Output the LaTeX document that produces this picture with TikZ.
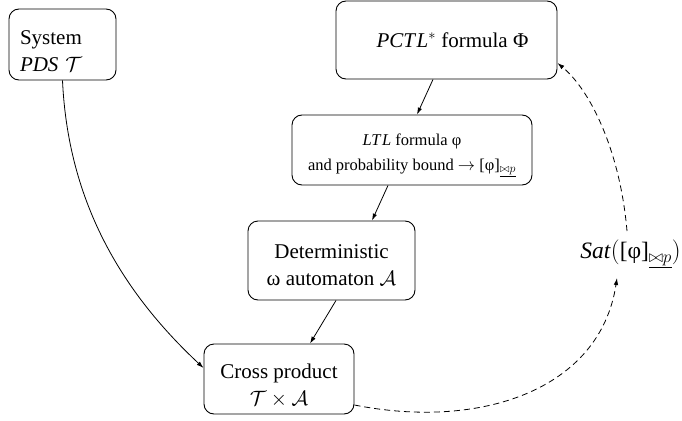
\documentclass[tikz,border=0pt]{standalone}
\usepackage{fontspec}
\setmainfont{Liberation Serif}
\usetikzlibrary{arrows.meta}
\begin{document}
\begin{tikzpicture}[x=1pt,y=-1pt,
  box/.style={draw, rounded corners=10pt, line width=0.9pt, align=center, inner sep=0pt},
  conn/.style={line width=0.8pt, -{Latex[length=7pt,width=4.5pt]}},
  dconn/.style={conn, dash pattern=on 6pt off 4pt},
  bigtxt/.style={font=\fontsize{21}{27}\selectfont},
  smalltxt/.style={font=\fontsize{16.5}{25}\selectfont},
  sattxt/.style={font=\fontsize{23.5}{28}\selectfont}]
\useasboundingbox (0,0) rectangle (682,420);
\node[box,bigtxt,minimum width=107pt,minimum height=71pt,text width=85pt,align=left] (sys) at (62.5,44.5)
  {\rule{0pt}{28pt}System\\\textit{PDS} $\mathcal{T}$};
\node[box,bigtxt,minimum width=221pt,minimum height=78pt] (pctl) at (446.5,40)
  {\hspace*{12pt}\textit{PCT\kern1.5pt L}$^{*}$ formula Φ};
\node[box,smalltxt,minimum width=240pt,minimum height=70pt] (ltl) at (412,150)
  {\rule{0pt}{22pt}\textit{LT\kern1.5pt L} formula φ\\and probability bound $\rightarrow$ [φ]$_{\underline{\bowtie p}}$};
\node[box,bigtxt,minimum width=167pt,minimum height=79pt] (det) at (331.5,260.5)
  {\rule{0pt}{24pt}Deterministic\\ω automaton $\mathcal{A}$};
\node[box,bigtxt,minimum width=150pt,minimum height=70pt] (cross) at (279,379)
  {\rule{0pt}{28pt}Cross product\\$\mathcal{T}\times\mathcal{A}$};
\node[sattxt,anchor=east,inner sep=0pt] (sat) at (681,254)
  {\textit{Sat}$\Bigl($[φ]$_{\underline{\bowtie p}}\Bigr)$};
\coordinate (satin) at (617,278);
\coordinate (satout) at (627,231);
\draw[conn] ([xshift=-13.5pt]pctl.south) -- ([xshift=5pt]ltl.north);
\draw[conn] ([xshift=-24pt]ltl.south) -- ([xshift=40.5pt]det.north);
\draw[conn] ([xshift=4.5pt]det.south) -- ([xshift=31pt]cross.north);
\draw[conn] (sys.south) .. controls (68,200) and (120,290) .. ([yshift=11pt]cross.west);
\draw[dconn] ([yshift=-26pt]cross.east) .. controls (480,430) and (600,390) .. (satin);
\draw[dconn] (satout) .. controls (620,150) and (590,90) .. ([yshift=-23pt]pctl.east);
\end{tikzpicture}
\end{document}
